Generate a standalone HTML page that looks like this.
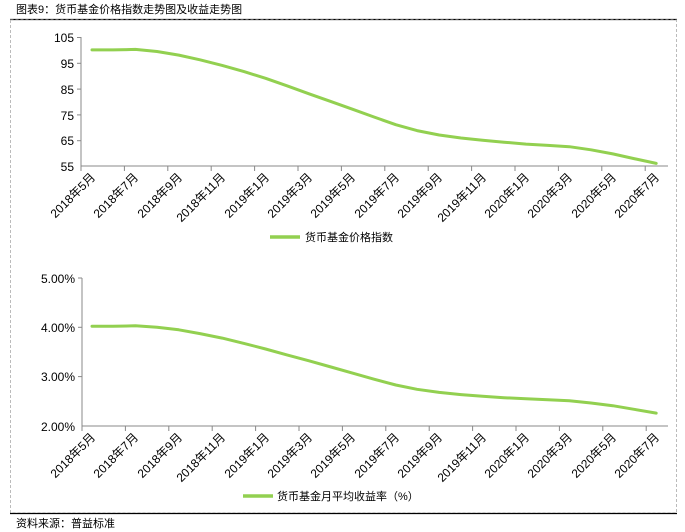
<!DOCTYPE html>
<html><head><meta charset="utf-8"><style>
body{margin:0;background:#fff;}
svg{display:block;}
text{font-family:"Liberation Sans","Noto Sans CJK SC",sans-serif;fill:#000;}
</style></head><body>
<svg width="685" height="532" viewBox="0 0 685 532" xmlns="http://www.w3.org/2000/svg">
<text x="16" y="13" font-size="11">图表9：货币基金价格指数走势图及收益走势图</text>
<line x1="10" y1="19.5" x2="677" y2="19.5" stroke="#000" stroke-width="1.2"/>
<rect x="10.5" y="20" width="666" height="493" fill="none" stroke="#bbb" stroke-dasharray="3,2"/>
<line x1="10" y1="513.5" x2="677" y2="513.5" stroke="#000" stroke-width="1.2"/>
<text x="16" y="527" font-size="11">资料来源：普益标准</text>

<!-- top chart -->
<g stroke="#888" stroke-width="1">
<line x1="81" y1="37" x2="81" y2="166"/>
<line x1="81" y1="166" x2="668" y2="166"/>
<line x1="77" y1="37.5" x2="81" y2="37.5"/><line x1="77" y1="63.3" x2="81" y2="63.3"/><line x1="77" y1="89.1" x2="81" y2="89.1"/><line x1="77" y1="114.9" x2="81" y2="114.9"/><line x1="77" y1="140.7" x2="81" y2="140.7"/>
</g>
<g font-size="12" text-anchor="end">
<text x="74" y="42">105</text><text x="74" y="68">95</text><text x="74" y="94">85</text><text x="74" y="120">75</text><text x="74" y="145">65</text><text x="74" y="171">55</text>
</g>
<g stroke="#888">
<line x1="81" y1="166" x2="81" y2="171"/><line x1="124.4" y1="166" x2="124.4" y2="171"/><line x1="167.8" y1="166" x2="167.8" y2="171"/><line x1="211.2" y1="166" x2="211.2" y2="171"/><line x1="254.6" y1="166" x2="254.6" y2="171"/><line x1="298" y1="166" x2="298" y2="171"/><line x1="341.4" y1="166" x2="341.4" y2="171"/><line x1="384.8" y1="166" x2="384.8" y2="171"/><line x1="428.2" y1="166" x2="428.2" y2="171"/><line x1="471.6" y1="166" x2="471.6" y2="171"/><line x1="515" y1="166" x2="515" y2="171"/><line x1="558.4" y1="166" x2="558.4" y2="171"/><line x1="601.8" y1="166" x2="601.8" y2="171"/><line x1="645.2" y1="166" x2="645.2" y2="171"/>
</g>
<g font-size="12" text-anchor="end">
<text transform="translate(96,178) rotate(-45)">2018年5月</text>
<text transform="translate(139,178) rotate(-45)">2018年7月</text>
<text transform="translate(183,178) rotate(-45)">2018年9月</text>
<text transform="translate(226,178) rotate(-45)">2018年11月</text>
<text transform="translate(270,178) rotate(-45)">2019年1月</text>
<text transform="translate(313,178) rotate(-45)">2019年3月</text>
<text transform="translate(356,178) rotate(-45)">2019年5月</text>
<text transform="translate(400,178) rotate(-45)">2019年7月</text>
<text transform="translate(443,178) rotate(-45)">2019年9月</text>
<text transform="translate(487,178) rotate(-45)">2019年11月</text>
<text transform="translate(530,178) rotate(-45)">2020年1月</text>
<text transform="translate(573,178) rotate(-45)">2020年3月</text>
<text transform="translate(617,178) rotate(-45)">2020年5月</text>
<text transform="translate(660,178) rotate(-45)">2020年7月</text>
</g>
<polyline fill="none" stroke="#92d050" stroke-width="3" stroke-linejoin="round" stroke-linecap="round"
points="92,49.9 113,49.9 135.4,49.4 157,51.5 178.8,55.1 200,59.8 222.2,65.4 244,71.6 265.6,78.3 287,85.8 309,93.8 331,101.6 352.4,109.2 374,117 395.8,124.7 417,130.6 439.2,135 461,138 482.6,140.2 504,142.2 526,144.1 548,145.4 569.4,146.7 591,149.8 612.8,153.9 634,158.6 656.2,163.4"/>
<line x1="270" y1="237" x2="300" y2="237" stroke="#92d050" stroke-width="3.5"/>
<text x="305" y="241" font-size="11">货币基金价格指数</text>

<!-- bottom chart -->
<g stroke="#888" stroke-width="1">
<line x1="82" y1="278" x2="82" y2="426"/>
<line x1="82" y1="426" x2="668" y2="426"/>
<line x1="78" y1="278" x2="82" y2="278"/><line x1="78" y1="327.3" x2="82" y2="327.3"/><line x1="78" y1="376.6" x2="82" y2="376.6"/>
</g>
<g font-size="12" text-anchor="end">
<text x="75" y="283">5.00%</text><text x="75" y="332">4.00%</text><text x="75" y="381">3.00%</text><text x="75" y="431">2.00%</text>
</g>
<g stroke="#888">
<line x1="82" y1="426" x2="82" y2="431"/><line x1="125.4" y1="426" x2="125.4" y2="431"/><line x1="168.8" y1="426" x2="168.8" y2="431"/><line x1="212.2" y1="426" x2="212.2" y2="431"/><line x1="255.6" y1="426" x2="255.6" y2="431"/><line x1="299" y1="426" x2="299" y2="431"/><line x1="342.4" y1="426" x2="342.4" y2="431"/><line x1="385.8" y1="426" x2="385.8" y2="431"/><line x1="429.2" y1="426" x2="429.2" y2="431"/><line x1="472.6" y1="426" x2="472.6" y2="431"/><line x1="516" y1="426" x2="516" y2="431"/><line x1="559.4" y1="426" x2="559.4" y2="431"/><line x1="602.8" y1="426" x2="602.8" y2="431"/><line x1="646.2" y1="426" x2="646.2" y2="431"/>
</g>
<g font-size="12" text-anchor="end">
<text transform="translate(96,438) rotate(-45)">2018年5月</text>
<text transform="translate(139,438) rotate(-45)">2018年7月</text>
<text transform="translate(183,438) rotate(-45)">2018年9月</text>
<text transform="translate(226,438) rotate(-45)">2018年11月</text>
<text transform="translate(270,438) rotate(-45)">2019年1月</text>
<text transform="translate(313,438) rotate(-45)">2019年3月</text>
<text transform="translate(356,438) rotate(-45)">2019年5月</text>
<text transform="translate(400,438) rotate(-45)">2019年7月</text>
<text transform="translate(443,438) rotate(-45)">2019年9月</text>
<text transform="translate(487,438) rotate(-45)">2019年11月</text>
<text transform="translate(530,438) rotate(-45)">2020年1月</text>
<text transform="translate(573,438) rotate(-45)">2020年3月</text>
<text transform="translate(617,438) rotate(-45)">2020年5月</text>
<text transform="translate(660,438) rotate(-45)">2020年7月</text>
</g>
<polyline fill="none" stroke="#92d050" stroke-width="3" stroke-linejoin="round" stroke-linecap="round"
points="92,326.3 113,326.3 135.4,325.8 157,327.2 178.8,329.8 200,333.6 222.2,338.1 244,343.4 265.6,349 287,354.9 309,360.8 331,367 352.4,373.1 374,379.2 395.8,385 417,389.3 439.2,392.4 461,394.6 482.6,396.3 504,397.7 526,398.8 548,399.8 569.4,400.8 591,403 612.8,405.7 634,409.3 656.2,413.1"/>
<line x1="243" y1="496" x2="273" y2="496" stroke="#92d050" stroke-width="3.5"/>
<text x="277" y="500" font-size="11">货币基金月平均收益率（%）</text>
</svg>
</body></html>
